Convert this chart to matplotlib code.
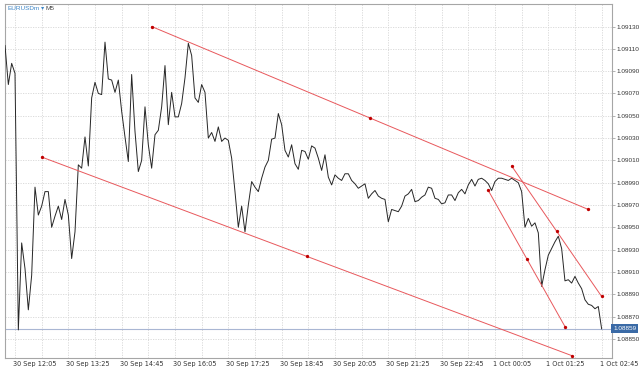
import matplotlib
matplotlib.use("Agg")
import matplotlib.pyplot as plt
from matplotlib.transforms import blended_transform_factory as btf

symbol = "EURUSDm"
timeframe = "M5"

# Close prices of consecutive M5 bars (bar 0 = 30 Sep 11:50, last = 1 Oct 02:45)
prices = [
    1.09113, 1.09078, 1.09097, 1.09088, 1.08858, 1.08936, 1.08913, 1.08876, 1.08907, 1.08986,
    1.08961, 1.08969, 1.08982, 1.08982, 1.08950, 1.08960, 1.08969, 1.08957, 1.08975, 1.08961,
    1.08922, 1.08946, 1.09006, 1.09003, 1.09031, 1.09005, 1.09066, 1.09080, 1.09070, 1.09069,
    1.09116, 1.09083, 1.09082, 1.09071, 1.09082, 1.09054, 1.09031, 1.09009, 1.09087, 1.09036,
    1.09000, 1.09010, 1.09058, 1.09024, 1.09003, 1.09033, 1.09037, 1.09058, 1.09095, 1.09042,
    1.09071, 1.09049, 1.09049, 1.09061, 1.09084, 1.09115, 1.09104, 1.09066, 1.09062, 1.09078,
    1.09071, 1.09030, 1.09035, 1.09027, 1.09040, 1.09027, 1.09030, 1.09028, 1.09012, 1.08982,
    1.08950, 1.08969, 1.08946, 1.08970, 1.08991, 1.08986, 1.08982, 1.08994, 1.09004, 1.09010,
    1.09029, 1.09030, 1.09052, 1.09042, 1.09019, 1.09013, 1.09024, 1.09007, 1.09002, 1.09019,
    1.09018, 1.09011, 1.09023, 1.09021, 1.09012, 1.09001, 1.09015, 1.08995, 1.08988, 1.08997,
    1.08994, 1.08992, 1.08998, 1.08998, 1.08992, 1.08989, 1.08985, 1.08987, 1.08989, 1.08976,
    1.08980, 1.08983, 1.08978, 1.08976, 1.08975, 1.08955, 1.08966, 1.08965, 1.08964, 1.08969,
    1.08978, 1.08980, 1.08984, 1.08973, 1.08974, 1.08977, 1.08979, 1.08986, 1.08985, 1.08976,
    1.08975, 1.08971, 1.08972, 1.08979, 1.08979, 1.08974, 1.08981, 1.08984, 1.08980, 1.08988,
    1.08993, 1.08987, 1.08993, 1.08994, 1.08992, 1.08989, 1.08983, 1.08991, 1.08994, 1.08994,
    1.08993, 1.08992, 1.08994, 1.08992, 1.08990, 1.08982, 1.08950, 1.08958, 1.08951, 1.08954,
    1.08945, 1.08897, 1.08912, 1.08925, 1.08931, 1.08937, 1.08942, 1.08931, 1.08902, 1.08903,
    1.08900, 1.08906, 1.08900, 1.08895, 1.08885, 1.08881, 1.08880, 1.08877, 1.08879, 1.08859,
]
bars = list(range(len(prices)))

time_tick_bars = [3, 19, 35, 51, 67, 83, 99, 115, 131, 147, 163, 179]
time_tick_labels = ["30 Sep 12:05", "30 Sep 13:25", "30 Sep 14:45", "30 Sep 16:05",
                    "30 Sep 17:25", "30 Sep 18:45", "30 Sep 20:05", "30 Sep 21:25",
                    "30 Sep 22:45", "1 Oct 00:05", "1 Oct 01:25", "1 Oct 02:45"]

price_ticks = [1.08850, 1.08870, 1.08890, 1.08910, 1.08930, 1.08950, 1.08970, 1.08990,
               1.09010, 1.09030, 1.09050, 1.09070, 1.09090, 1.09110, 1.09130]
current_price = 1.08859

# Trend line objects (start bar, start price, end bar, end price)
trend_start_bar = [44, 11, 152, 145]
trend_start_price = [1.09130, 1.09013, 1.09005, 1.08983]
trend_end_bar = [175, 170, 179, 168]
trend_end_price = [1.08966, 1.08835, 1.08888, 1.08861]

fig = plt.figure(figsize=(6.4, 3.71), dpi=100, facecolor="white")
L, R, T, B = 5 / 640, 612.3 / 640, 1 - 4 / 371, 1 - 357.7 / 371
ax = fig.add_axes([L, B, R - L, T - B])
ax.set_facecolor("white")

ax.set_xlim(0, 182.2)
ax.set_ylim(1.088331, 1.091502)

# grid
for gb in range(3, 182, 8):
    ax.axvline(gb, color="#d6d6d6", lw=0.6, ls=(0, (1.5, 1.5)), zorder=0)
for pt in price_ticks:
    ax.axhline(pt, color="#d6d6d6", lw=0.6, ls=(0, (1.5, 1.5)), zorder=0)

# current price line
ax.axhline(current_price, color="#a9b6d3", lw=0.8, zorder=1)

# price line
ax.plot(bars, prices, color="#262626", lw=0.7, zorder=3)

# trend lines
for sb, sp, eb, ep in zip(trend_start_bar, trend_start_price, trend_end_bar, trend_end_price):
    ax.plot([sb, eb], [sp, ep], color="#e8585c", lw=0.7, zorder=4)
    mb, mp = (sb + eb) / 2, (sp + ep) / 2
    ax.plot([sb, mb, eb], [sp, mp, ep], ls="none", marker="o", ms=2.4,
            mec="none", color="#c00000", zorder=5)

for s in ax.spines.values():
    s.set_color("#a6a6a6")
    s.set_linewidth(0.8)

# price axis on the right
ax.yaxis.tick_right()
ax.set_yticks(price_ticks)
ax.set_yticklabels([f"{v:.5f}" for v in price_ticks], family="Liberation Sans")
ax.tick_params(axis="y", length=2, width=0.6, color="#a6a6a6", pad=1.2,
               labelsize=4.6, labelcolor="#333333")
ax.set_xticks([])

ax.text(1.0012, current_price, f"{current_price:.5f}",
        transform=btf(ax.transAxes, ax.transData), ha="left", va="center",
        fontsize=4.6, color="white", family="Liberation Sans",
        bbox=dict(boxstyle="square,pad=0.3", fc="#3a6aa6", ec="none"), zorder=10,
        clip_on=False)

# time labels
tr = btf(ax.transData, ax.transAxes)
for b, lab in zip(time_tick_bars, time_tick_labels):
    ax.text(b - 0.6, -0.009, lab, transform=tr, ha="left", va="top",
            fontsize=4.7, color="#333333", clip_on=False)

# symbol label
t1 = fig.text(7 / 640, 1 - 8 / 371, symbol, ha="left", va="center", fontsize=4.6,
              color="#3d85c6", family="Liberation Sans")
t2 = fig.text(0, 0, "\u25be", fontsize=4.6, color="#3d85c6", ha="left", va="center")
t2.set_transform(matplotlib.transforms.offset_copy(fig.transFigure, fig=fig, x=0, y=0))
fig.canvas.draw()
bb = t1.get_window_extent()
fx = (bb.x1 + 2) / fig.bbox.width
t2.set_position((fx, 1 - 8 / 371))
t2.set_transform(fig.transFigure)
fig.canvas.draw()
bb2 = t2.get_window_extent()
fig.text((bb2.x1 + 1.5) / fig.bbox.width, 1 - 8 / 371, timeframe, ha="left", va="center",
         fontsize=4.6, color="#444444", family="Liberation Sans")

fig.savefig("out.png", dpi=100, facecolor="white")
